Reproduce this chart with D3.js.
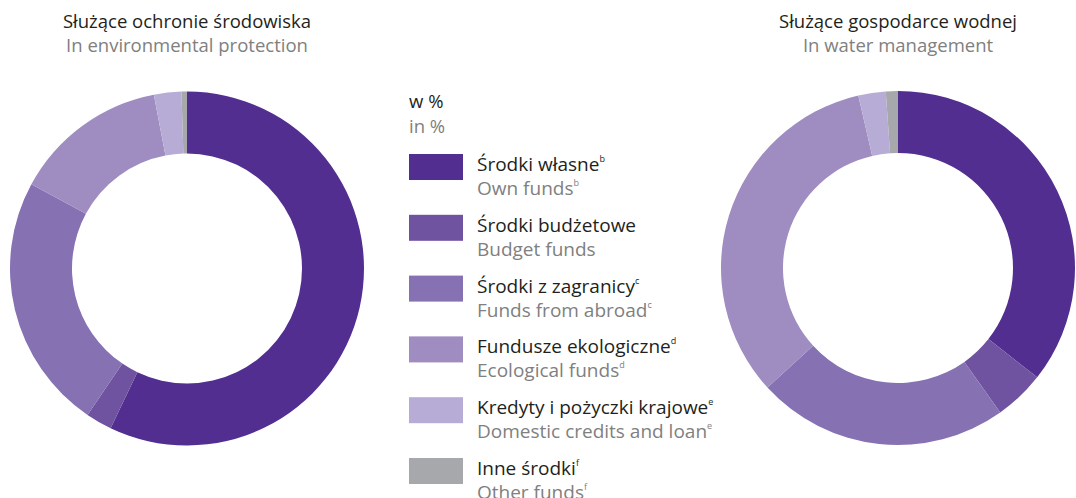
<!DOCTYPE html>
<html>
<head>
<meta charset="utf-8">
<script src="https://cdn.jsdelivr.net/npm/d3@7"></script>
<style>
  body { margin: 0; background: #fff; }
  svg { display: block; font-family: "Open Sans", "Noto Sans", sans-serif; }
</style>
</head>
<body>
<svg id="chart" width="1076" height="498"></svg>
<script>
// categories (Polish / English) and footnote marks
var categoriesPl = ["Środki własne", "Środki budżetowe", "Środki z zagranicy", "Fundusze ekologiczne", "Kredyty i pożyczki krajowe", "Inne środki"];
var categoriesEn = ["Own funds", "Budget funds", "Funds from abroad", "Ecological funds", "Domestic credits and loan", "Other funds"];
var notes = ["b", "", "c", "d", "e", "f"];

// shares in %
var envValues = [57.1, 2.4, 23.4, 14.1, 2.5, 0.5];
var waterValues = [35.6, 4.6, 23.0, 33.2, 2.5, 1.1];

var colors = ["#522e91", "#6f53a1", "#8671b3", "#9f8cc1", "#b7acd6", "#a7a8ab"];

var svg = d3.select("#chart");

var color = d3.scaleOrdinal().domain(categoriesPl).range(colors);

var pie = d3.pie().sort(null).value(function (d) { return d.v; });
var arc = d3.arc().innerRadius(115).outerRadius(177);

// one donut per chart
function donut(values, cx, cy, title, subtitle) {
    var data = values.map(function (v, i) { return { k: categoriesPl[i], v: v }; });
    var g = svg.append("g").attr("transform", "translate(" + cx + "," + cy + ")");
    g.selectAll("path")
        .data(pie(data))
        .enter()
        .append("path")
        .attr("d", arc)
        .attr("fill", function (d) { return color(d.data.k); });

    svg.append("text")
        .attr("x", cx).attr("y", 28)
        .attr("text-anchor", "middle")
        .attr("font-size", 18.5)
        .attr("fill", "#231f20")
        .text(title);
    svg.append("text")
        .attr("x", cx).attr("y", 52)
        .attr("text-anchor", "middle")
        .attr("font-size", 18.5)
        .attr("fill", "#808080")
        .text(subtitle);
}

donut(envValues, 187, 268.5, "Służące ochronie środowiska", "In environmental protection");
donut(waterValues, 898, 268, "Służące gospodarce wodnej", "In water management");

// legend
var legend = svg.append("g");
legend.append("text").attr("x", 409).attr("y", 108).attr("font-size", 18.5).attr("fill", "#231f20").text("w %");
legend.append("text").attr("x", 409).attr("y", 133).attr("font-size", 18.5).attr("fill", "#808080").text("in %");

var ly = d3.scaleLinear().domain([0, 5]).range([154, 458]);

var items = legend.selectAll("g.item")
    .data(categoriesPl)
    .enter()
    .append("g")
    .attr("class", "item")
    .attr("transform", function (d, i) { return "translate(409," + ly(i) + ")"; });

items.append("rect")
    .attr("width", 54).attr("height", 26)
    .attr("fill", function (d) { return color(d); });

var pl = items.append("text")
    .attr("x", 68).attr("y", 17)
    .attr("font-size", 19)
    .attr("fill", "#231f20");
pl.append("tspan").text(function (d) { return d; });
pl.append("tspan").attr("font-size", 9).attr("dy", -9).text(function (d, i) { return notes[i]; });

var en = items.append("text")
    .attr("x", 68).attr("y", 41)
    .attr("font-size", 19)
    .attr("fill", "#808080");
en.append("tspan").text(function (d, i) { return categoriesEn[i]; });
en.append("tspan").attr("font-size", 9).attr("dy", -9).text(function (d, i) { return notes[i]; });
</script>
</body>
</html>
